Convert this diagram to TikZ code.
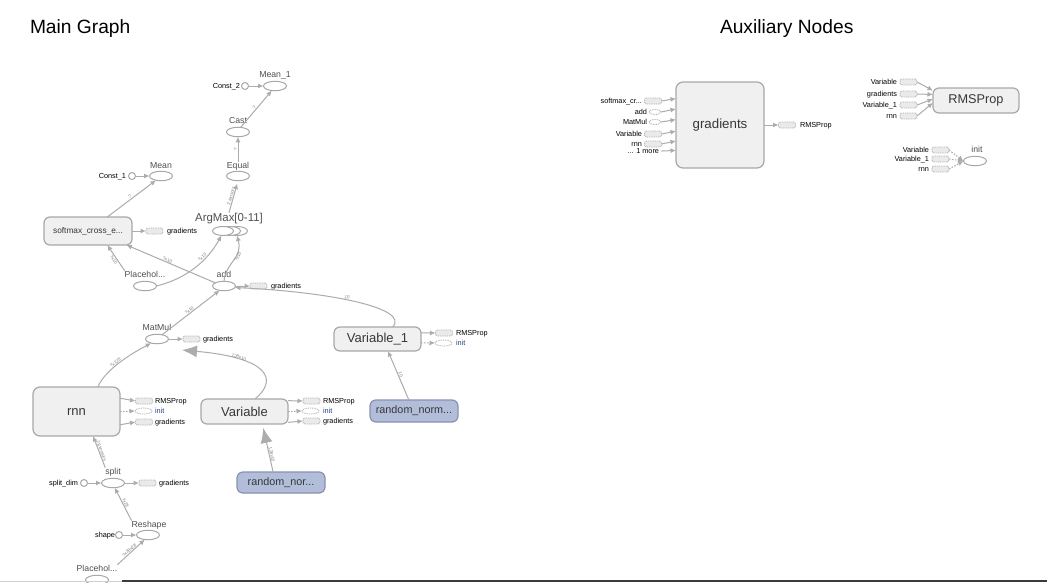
\documentclass[tikz,border=0pt]{standalone}
\usepackage{fontspec}
\setmainfont{Liberation Sans}
\usetikzlibrary{shapes.geometric,arrows.meta}

\definecolor{edgegray}{RGB}{172,172,172}
\definecolor{bordergray}{RGB}{168,168,168}
\definecolor{boxfill}{RGB}{240,240,240}
\definecolor{stubfill}{RGB}{234,234,234}
\definecolor{stubline}{RGB}{180,180,180}
\definecolor{randfill}{RGB}{178,190,217}
\definecolor{randline}{RGB}{135,146,175}
\definecolor{labeltext}{RGB}{80,80,80}
\definecolor{boxtext}{RGB}{55,55,55}
\definecolor{edgetext}{RGB}{125,125,125}
\definecolor{initblue}{RGB}{35,65,135}
\definecolor{rulegray}{RGB}{60,60,60}

\newcommand{\fsz}[1]{\fontsize{#1}{#1}\selectfont}

\tikzset{
  every node/.style={inner sep=0pt, outer sep=0pt},
  titletext/.style={anchor=base west, font=\fsz{19.2}, text=black},
  opnode/.style={ellipse, draw=bordergray, line width=1pt, fill=white,
                 minimum width=23pt, minimum height=9.5pt},
  constnode/.style={circle, draw=bordergray, line width=1pt, fill=white, minimum size=7pt},
  groupbox/.style={rectangle, rounded corners=6pt, draw=bordergray, line width=1.2pt,
                   fill=boxfill, text=boxtext},
  randbox/.style={groupbox, fill=randfill, draw=randline},
  stubbox/.style={rectangle, rounded corners=2pt, draw=stubline, line width=0.8pt,
                  dash pattern=on 1pt off 0.8pt, fill=stubfill,
                  minimum width=17pt, minimum height=6pt},
  stubop/.style={ellipse, draw=stubline, line width=0.8pt, dash pattern=on 1pt off 0.8pt,
                 fill=white, minimum width=17pt, minimum height=6pt},
  oplabel/.style={anchor=base, font=\fsz{8.7}, text=labeltext},
  stublabel/.style={anchor=base west, font=\fsz{7.3}, text=black},
  inlabel/.style={anchor=base east, font=\fsz{7.3}, text=black},
  flow/.style={draw=edgegray, line width=1pt, -{Latex[length=5.5pt,width=5pt]}},
  ctrlflow/.style={flow, dash pattern=on 1.5pt off 1.5pt},
  refflow/.style={draw=edgegray, line width=1pt, -{Latex[length=15pt,width=12pt]}},
  elabel/.style={font=\fsz{4.5}, text=edgetext, sloped, above, inner sep=1pt, midway}
}

\begin{document}
\begin{tikzpicture}[x=1pt,y=-1pt]
\useasboundingbox (0,0) rectangle (1047,582);
\clip (0,0) rectangle (1047,582);
\fill[white] (0,0) rectangle (1047,582);

% panel titles
\node[titletext] (maintitle) at (30,33) {Main Graph};
\node[titletext] (auxtitle) at (720,33) {Auxiliary Nodes};

% ---------- accuracy branch ----------
\node[opnode] (mean1) at (275,86) {};
\node[oplabel] (mean1_lbl) at (275,77) {Mean\_1};
\node[constnode] (const2) at (245,86) {};
\node[inlabel] (const2_lbl) at (240,88.6) {Const\_2};
\node[opnode] (cast) at (238,132) {};
\node[oplabel] (cast_lbl) at (238,123) {Cast};
\node[opnode] (equal) at (238,176) {};
\node[oplabel] (equal_lbl) at (238,168) {Equal};
\node[opnode, minimum width=21pt, minimum height=9pt] (argc) at (237,231) {};
\node[opnode, minimum width=21pt, minimum height=9pt] (argb) at (230,231) {};
\node[opnode, minimum width=21pt, minimum height=9pt] (arga) at (223,231) {};
\node[oplabel, font=\fsz{11.4}] (argmax_lbl) at (229,221) {ArgMax[0-11]};

% ---------- loss branch ----------
\node[opnode] (mean) at (161,176) {};
\node[oplabel] (mean_lbl) at (161,168) {Mean};
\node[constnode] (const1) at (132,176) {};
\node[inlabel] (const1_lbl) at (126,178.6) {Const\_1};
\node[groupbox, minimum width=88pt, minimum height=28pt, font=\fsz{8.3}] (softmax) at (88,231) {softmax\_cross\_e...};
\node[stubbox] (sm_grad) at (154.5,231) {};
\node[stublabel] (sm_grad_lbl) at (167,233.6) {gradients};
\node[opnode] (placeholder) at (145,286) {};
\node[oplabel] (ph_lbl) at (145,277) {Placehol...};
\node[opnode] (add) at (224,286) {};
\node[oplabel] (add_lbl) at (224,277.5) {add};
\node[stubbox] (add_grad) at (258.5,286) {};
\node[stublabel] (add_grad_lbl) at (271,288.6) {gradients};

% ---------- model ----------
\node[opnode] (matmul) at (157,339) {};
\node[oplabel] (matmul_lbl) at (157,330) {MatMul};
\node[stubbox] (mm_grad) at (191.5,339) {};
\node[stublabel] (mm_grad_lbl) at (203,341.6) {gradients};
\coordinate (mmref) at (182,350);

\node[groupbox, rounded corners=7pt, minimum width=87pt, minimum height=49pt, font=\fsz{13}] (rnn) at (76.5,411.5) {rnn};
\node[stubbox] (rnn_rms) at (144,401) {};
\node[stublabel] (rnn_rms_lbl) at (155,403.6) {RMSProp};
\node[stubop] (rnn_init) at (143.5,411) {};
\node[stublabel, text=initblue] (rnn_init_lbl) at (155,413.6) {init};
\node[stubbox] (rnn_grad) at (144,422) {};
\node[stublabel] (rnn_grad_lbl) at (155,424.6) {gradients};

\node[groupbox, minimum width=87pt, minimum height=25pt, font=\fsz{13}] (variable) at (244.5,411.5) {Variable};
\node[stubbox] (var_rms) at (311.5,401) {};
\node[stublabel] (var_rms_lbl) at (323,403.6) {RMSProp};
\node[stubop] (var_init) at (310.5,411) {};
\node[stublabel, text=initblue] (var_init_lbl) at (323,413.6) {init};
\node[stubbox] (var_grad) at (311.5,421) {};
\node[stublabel] (var_grad_lbl) at (323,423.6) {gradients};

\node[groupbox, minimum width=87pt, minimum height=24pt, font=\fsz{13}] (var1) at (377.5,339) {Variable\_1};
\node[stubbox] (var1_rms) at (444,333) {};
\node[stublabel] (var1_rms_lbl) at (456,335.6) {RMSProp};
\node[stubop] (var1_init) at (443.5,343) {};
\node[stublabel, text=initblue] (var1_init_lbl) at (456,345.6) {init};

\node[randbox, minimum width=88pt, minimum height=21pt, font=\fsz{10.8}] (rand1) at (281,482.5) {random\_nor...};
\node[randbox, minimum width=88pt, minimum height=22pt, font=\fsz{10.8}] (rand2) at (414,411) {random\_norm...};

% ---------- input pipeline ----------
\node[opnode] (split) at (113,483) {};
\node[oplabel] (split_lbl) at (113,474) {split};
\node[constnode] (split_dim) at (84,483) {};
\node[inlabel] (split_dim_lbl) at (78,485.6) {split\_dim};
\node[stubbox] (split_grad) at (147.5,483) {};
\node[stublabel] (split_grad_lbl) at (159,485.6) {gradients};
\node[opnode] (reshape) at (148,535) {};
\node[oplabel] (reshape_lbl) at (149,527) {Reshape};
\node[constnode] (shape) at (119,535) {};
\node[inlabel] (shape_lbl) at (115,537.6) {shape};
\node[opnode] (ph2) at (97,580) {};
\node[oplabel] (ph2_lbl) at (97,571) {Placehol...};

% ---------- main graph connectors ----------
\draw[flow] (const2) -- (mean1);
\draw[flow] (cast.60) -- (mean1.235) node[elabel] {?};
\draw[flow] (equal_lbl.north) -- (cast.south) node[elabel] {?};
\draw[flow, shorten >=3pt] (argmax_lbl.north) -- (equal.south) node[elabel] {2 tensors};
\draw[flow] (const1) -- (mean);
\draw[flow] (softmax.36) -- (mean.220) node[elabel] {?};
\draw[flow] (softmax.east) -- (sm_grad.west);
\draw[flow] (ph_lbl.north west) -- (softmax.-36) node[elabel, pos=0.5, below] {?x10};
\draw[flow] (add.160) -- (softmax.-20) node[elabel, pos=0.55] {?x10};
\draw[flow] (placeholder.east) .. controls (185,279) and (207,262) .. (arga.-110)
  node[elabel, pos=0.66] {?x10};
\draw[flow] (add.north) .. controls (226,262) and (243,258) .. (argc.-90)
  node[elabel, pos=0.6, below] {?x10};
\draw[flow] (add.east) -- (add_grad.west);
\draw[flow] (matmul.40) -- (add.225) node[elabel] {?x10};
\draw[flow] (matmul.east) -- (mm_grad.west);
\draw[flow] (rnn.49) .. controls (104,372) and (125,357) .. (matmul.215) node[elabel] {?x128};
\draw[flow] (rnn.17) -- (rnn_rms.west);
\draw[ctrlflow] (rnn.east) -- (rnn_init.west);
\draw[flow] (rnn.-17) -- (rnn_grad.west);
\draw[refflow] (variable.50) .. controls (278,380) and (270,358) .. (mmref)
  node[elabel, pos=0.72] {128x10};
\draw[flow] (variable.14) -- (var_rms.west);
\draw[ctrlflow] (variable.east) -- (var_init.west);
\draw[flow] (variable.-14) -- (var_grad.west);
\draw[flow] (var1.38) .. controls (410,308) and (330,292) .. (add.-8) node[elabel, pos=0.55] {10};
\draw[flow] (var1.8) -- (var1_rms.west);
\draw[ctrlflow] (var1.-5) -- (var1_init.west);
\draw[flow] (rand2.115) -- (var1.-49) node[elabel] {10};
\draw[refflow, shorten >=4pt] (rand1.127) -- (variable.-35) node[elabel, pos=0.35] {128x10};
\draw[flow] (split_lbl.north west) -- (rnn.-56) node[elabel] {28 tensors};
\draw[flow] (split_dim) -- (split);
\draw[flow] (split.east) -- (split_grad.west);
\draw[flow] (reshape_lbl.north west) -- (split.-70) node[elabel] {?x28};
\draw[flow] (shape) -- (reshape);
\draw[flow] (ph2_lbl.north east) -- (reshape.-125) node[elabel] {?x28x28};

% ---------- auxiliary nodes ----------
\node[groupbox, rounded corners=7pt, minimum width=88pt, minimum height=86pt, font=\fsz{13.3}] (gradients) at (720,125) {gradients};
\node[stubbox] (gin_sm) at (653,101) {};
\node[inlabel] (gin_sm_lbl) at (642,103.6) {softmax\_cr...};
\node[stubop, minimum width=12pt, minimum height=5pt] (gin_add) at (655,112) {};
\node[inlabel] (gin_add_lbl) at (647,114.6) {add};
\node[stubop, minimum width=12pt, minimum height=5pt] (gin_mm) at (655,122) {};
\node[inlabel] (gin_mm_lbl) at (647,124.6) {MatMul};
\node[stubbox] (gin_var) at (653,134) {};
\node[inlabel] (gin_var_lbl) at (642,136.6) {Variable};
\node[stubbox] (gin_rnn) at (653,144) {};
\node[inlabel] (gin_rnn_lbl) at (642,146.6) {rnn};
\node[inlabel] (gin_more) at (659,153.6) {... 1 more};
\node[stubbox] (gout) at (787,125) {};
\node[stublabel] (gout_lbl) at (800,127.6) {RMSProp};

\draw[flow] (gin_sm.east) -- (gradients.149);
\draw[flow] (gin_add.east) -- (gradients.160);
\draw[flow] (gin_mm.east) -- (gradients.173);
\draw[flow] (gin_var.east) -- (gradients.188);
\draw[flow] (gin_rnn.east) -- (gradients.200);
\draw[flow, shorten <=2pt] (gin_more.east) -- (gradients.210);
\draw[flow] (gradients.east) -- (gout.west);

\node[groupbox, minimum width=86pt, minimum height=25pt, font=\fsz{12.7}] (rmsprop) at (976,100.5) {RMSProp};
\node[stubbox] (rin_var) at (908.5,82) {};
\node[inlabel] (rin_var_lbl) at (897,84.6) {Variable};
\node[stubbox] (rin_grad) at (908.5,94) {};
\node[inlabel] (rin_grad_lbl) at (897,96.6) {gradients};
\node[stubbox] (rin_var1) at (908.5,105) {};
\node[inlabel] (rin_var1_lbl) at (897,107.6) {Variable\_1};
\node[stubbox] (rin_rnn) at (908.5,116) {};
\node[inlabel] (rin_rnn_lbl) at (897,118.6) {rnn};
\draw[flow] (rin_var.east) -- (rmsprop.167);
\draw[flow] (rin_grad.east) -- (rmsprop.172);
\draw[flow] (rin_var1.east) -- (rmsprop.178);
\draw[flow] (rin_rnn.east) -- (rmsprop.183);

\node[opnode] (init) at (975,161) {};
\node[oplabel] (init_lbl) at (977,152) {init};
\node[stubbox] (iin_var) at (940.5,150) {};
\node[inlabel] (iin_var_lbl) at (929,152.6) {Variable};
\node[stubbox] (iin_var1) at (940.5,159) {};
\node[inlabel] (iin_var1_lbl) at (929,161.6) {Variable\_1};
\node[stubbox] (iin_rnn) at (940.5,169) {};
\node[inlabel] (iin_rnn_lbl) at (929,171.6) {rnn};
\draw[ctrlflow] (iin_var.east) -- (init.west);
\draw[ctrlflow] (iin_var1.east) -- (init.west);
\draw[ctrlflow] (iin_rnn.east) -- (init.west);

% panel bottom rule
\draw[line width=1pt, black!18] (0,581) -- (122,581);
\draw[line width=1.2pt, rulegray] (122,581) -- (1047,581);
\end{tikzpicture}
\end{document}
